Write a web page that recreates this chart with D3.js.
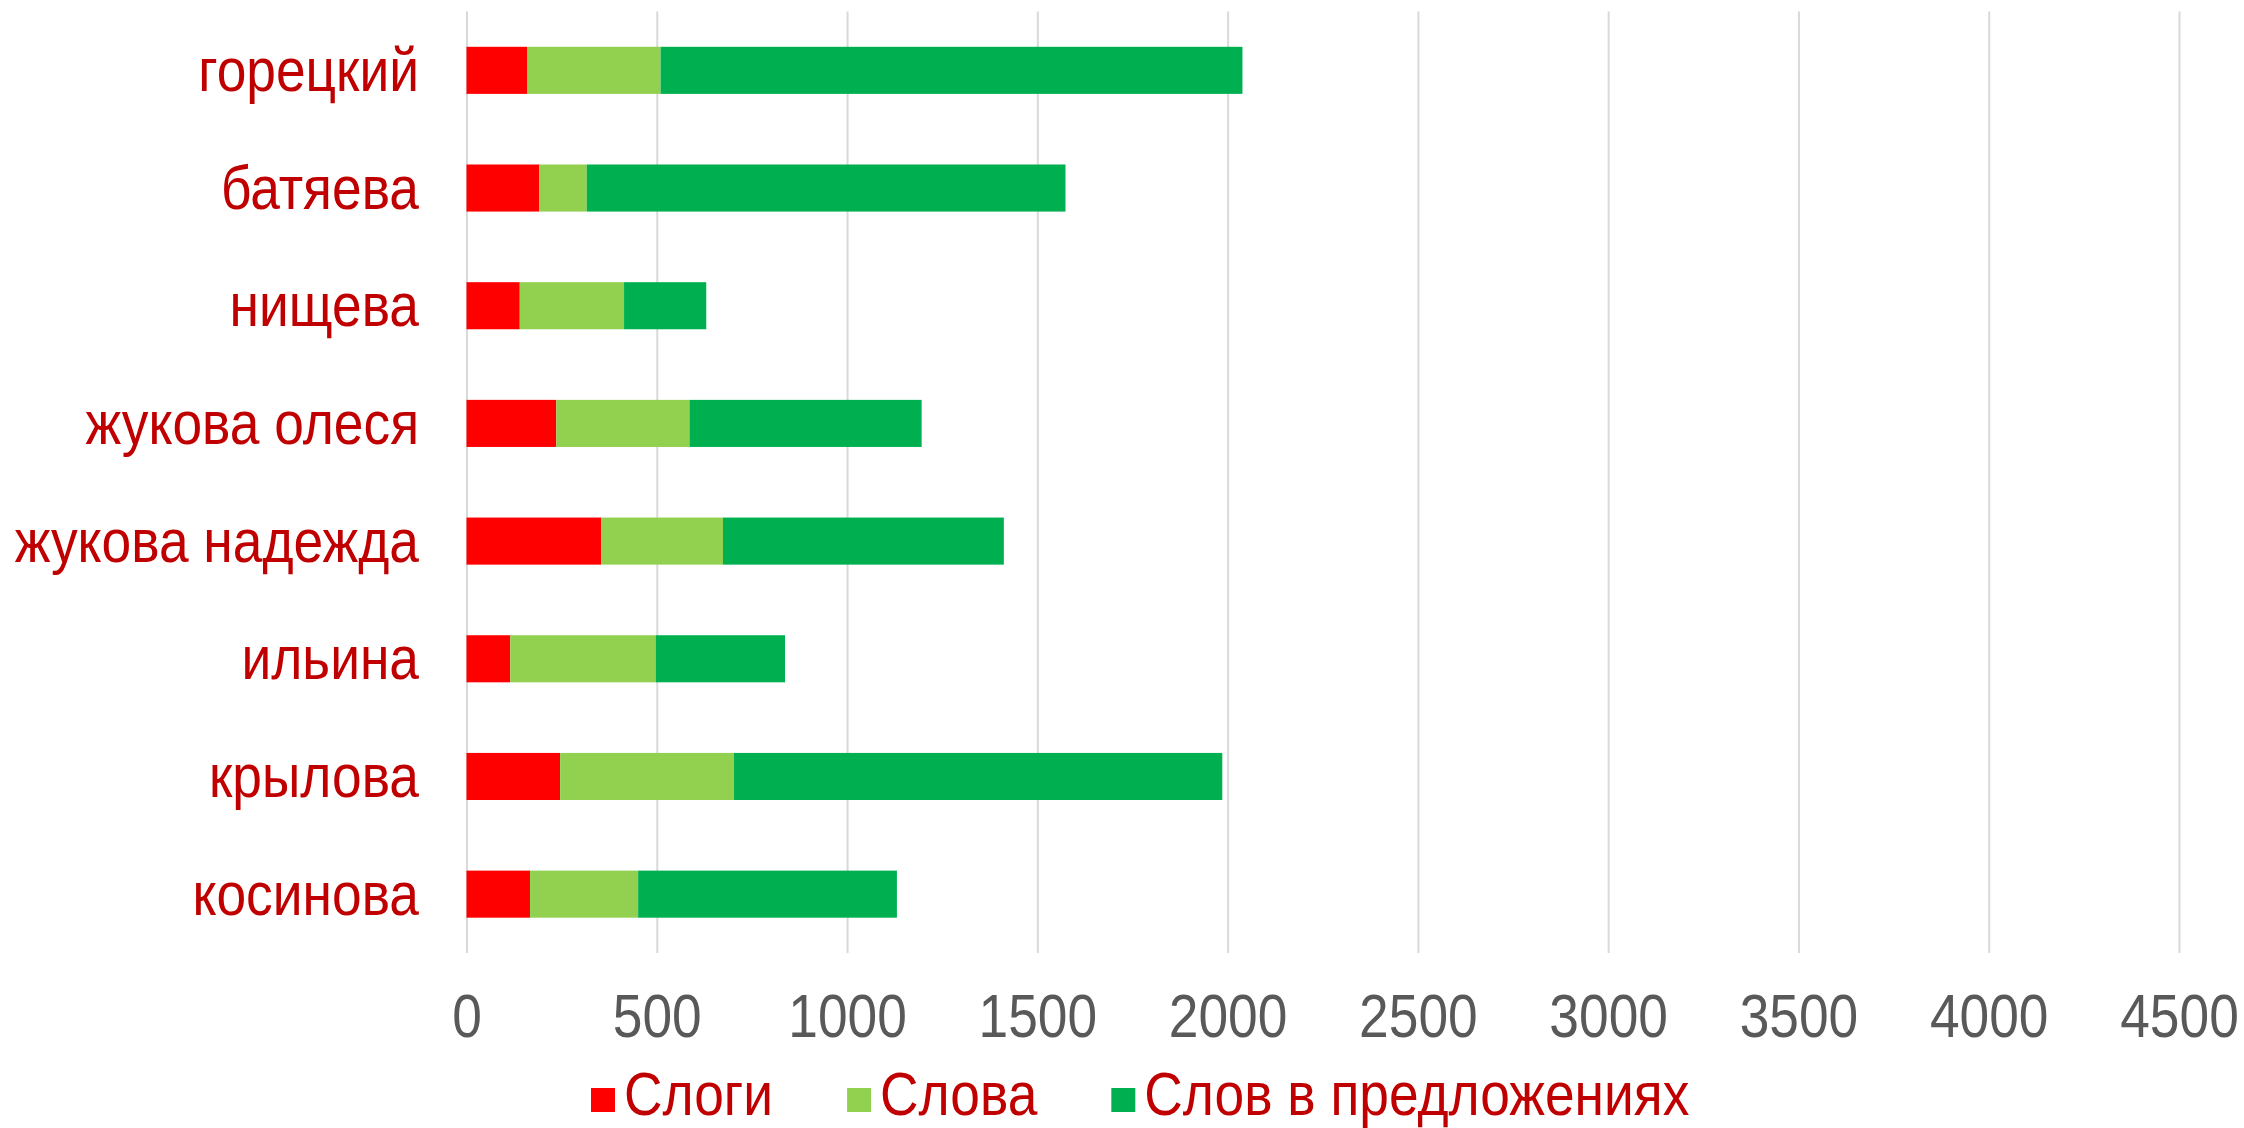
<!DOCTYPE html>
<html>
<head>
<meta charset="utf-8">
<script src="https://cdnjs.cloudflare.com/ajax/libs/d3/7.8.5/d3.min.js"></script>
<style>
html, body { margin: 0; padding: 0; background: #fff; }
svg { display: block; font-family: 'Liberation Sans', Arial, sans-serif; }
</style>
</head>
<body>
<svg id="chart" width="2244" height="1128"></svg>
<script>
'use strict';

var names = ['горецкий', 'батяева', 'нищева', 'жукова олеся',
    'жукова надежда', 'ильина', 'крылова', 'косинова'];
var slogi = [159, 191, 140, 236, 354, 115, 246, 167];
var slova = [351, 125, 274, 350, 320, 382, 457, 284];
var slovPredl = [1529, 1258, 216, 610, 738, 340, 1283, 680];
var seriesNames = ['Слоги', 'Слова', 'Слов в предложениях'];
var seriesColors = ['#ff0000', '#92d050', '#00b050'];
var xTicks = [0, 500, 1000, 1500, 2000, 2500, 3000, 3500, 4000, 4500];

var svg = d3.select('#chart'),
    plotTop = 11.5,
    plotBottom = 953,
    plotLeft = 466.5,
    plotRight = 2179,
    fontSize = 62,
    narrow = 0.86,   // the original font is a condensed face
    labelPad = 47.5,
    labelColor = '#c00000';

var rows = names.map(function (name, i) {
  var row = {name: name};
  row[seriesNames[0]] = slogi[i];
  row[seriesNames[1]] = slova[i];
  row[seriesNames[2]] = slovPredl[i];
  return row;
});

var stacked = d3.stack().keys(seriesNames)(rows);

var x = d3.scaleLinear().domain([0, 4500]).range([plotLeft, plotRight]);
var y = d3.scaleBand().domain(names).range([plotTop, plotBottom])
    .paddingInner(0.6).paddingOuter(0.3);

// vertical gridlines + value labels
var xAxis = svg.append('g')
    .attr('transform', 'translate(0,' + plotBottom + ')')
    .call(d3.axisBottom(x).tickValues(xTicks).tickFormat(d3.format('d'))
        .tickSize(-(plotBottom - plotTop)).tickPadding(40));
xAxis.select('.domain').remove();
xAxis.selectAll('line').attr('stroke', '#d9d9d9').attr('stroke-width', 2);
xAxis.selectAll('text')
    .attr('fill', '#595959')
    .attr('transform', 'scale(' + narrow + ',1)')
    .style('font-size', fontSize + 'px')
    .style('font-family', "'Liberation Sans', Arial, sans-serif");

// stacked bars
svg.append('g').selectAll('g')
    .data(stacked)
  .enter().append('g')
    .attr('fill', function (d, i) { return seriesColors[i]; })
  .selectAll('rect')
    .data(function (d) { return d; })
  .enter().append('rect')
    .attr('x', function (d) { return x(d[0]); })
    .attr('y', function (d) { return y(d.data.name); })
    .attr('width', function (d) { return x(d[1]) - x(d[0]); })
    .attr('height', y.bandwidth());

// category labels
var yAxis = svg.append('g')
    .attr('transform', 'translate(' + plotLeft + ',0)')
    .call(d3.axisLeft(y).tickSize(0).tickPadding(labelPad));
yAxis.select('.domain').remove();
yAxis.selectAll('text')
    .attr('x', -labelPad / narrow)
    .attr('dy', '0.33em')
    .attr('fill', labelColor)
    .attr('transform', 'scale(' + narrow + ',1)')
    .style('font-size', fontSize + 'px')
    .style('font-family', "'Liberation Sans', Arial, sans-serif");

// legend
var legend = svg.append('g'),
    lx = 591,
    legendY = 1100,
    box = 24;

seriesNames.forEach(function (name, i) {
  var item = legend.append('g').attr('transform', 'translate(' + lx + ',0)'),
      label;

  item.append('rect')
      .attr('x', 0)
      .attr('y', legendY - box / 2)
      .attr('width', box)
      .attr('height', box)
      .attr('fill', seriesColors[i]);

  label = item.append('text')
      .attr('x', (box + 9) / narrow)
      .attr('y', 1115)
      .attr('fill', labelColor)
      .attr('transform', 'scale(' + narrow + ',1)')
      .style('font-size', fontSize + 'px')
      .text(name);

  lx += box + 9 + label.node().getComputedTextLength() * narrow + 74;
});
</script>
</body>
</html>
